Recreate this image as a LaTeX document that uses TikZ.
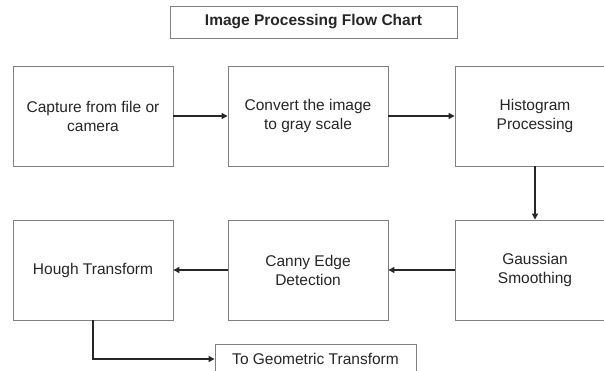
\documentclass[tikz,border=0pt]{standalone}
\usepackage{fontspec}
\setmainfont{Liberation Sans}
\usetikzlibrary{arrows.meta}
\begin{document}
\begin{tikzpicture}[x=1pt,y=-1pt,
  box/.style={draw=black!50,line width=0.9pt,fill=white,rectangle,minimum width=160pt,minimum height=100pt,inner sep=0pt,align=center,text=black!85,font=\fontsize{15.5}{19}\selectfont},
  titlebox/.style={draw=black!50,line width=0.9pt,fill=white,rectangle,minimum width=287pt,minimum height=32pt,inner sep=0pt,text=black!85,font=\fontsize{15.5}{19}\selectfont\bfseries},
  geobox/.style={draw=black!50,line width=0.9pt,fill=white,rectangle,minimum width=201pt,minimum height=30pt,inner sep=0pt,text=black!85,font=\fontsize{15.5}{19}\selectfont},
  arr/.style={draw=black!85,line width=1.3pt,-{Triangle[length=6pt,width=6pt]}}]
\useasboundingbox (0,0) rectangle (604,371);
\clip (0,0) rectangle (604,371);
\node[titlebox] (title) at (313.5,22) {Image Processing Flow Chart};
\node[box] (capture) at (93,116) {Capture from file or\\camera};
\node[box] (convert) at (308,116) {Convert the image\\to gray scale};
\node[box] (hist) at (535,116) {Histogram\\Processing};
\node[box] (gauss) at (535,270) {Gaussian\\Smoothing};
\node[box] (canny) at (308,270) {Canny Edge\\Detection};
\node[box] (hough) at (93,270) {Hough Transform};
\node[geobox] (geo) at (315.5,359) {To Geometric Transform};
\draw[arr] (capture) -- (convert);
\draw[arr] (convert) -- (hist);
\draw[arr] (hist) -- (gauss);
\draw[arr] (gauss) -- (canny);
\draw[arr] (canny) -- (hough);
\draw[arr] (hough.south) |- (geo.west);
\end{tikzpicture}
\end{document}
